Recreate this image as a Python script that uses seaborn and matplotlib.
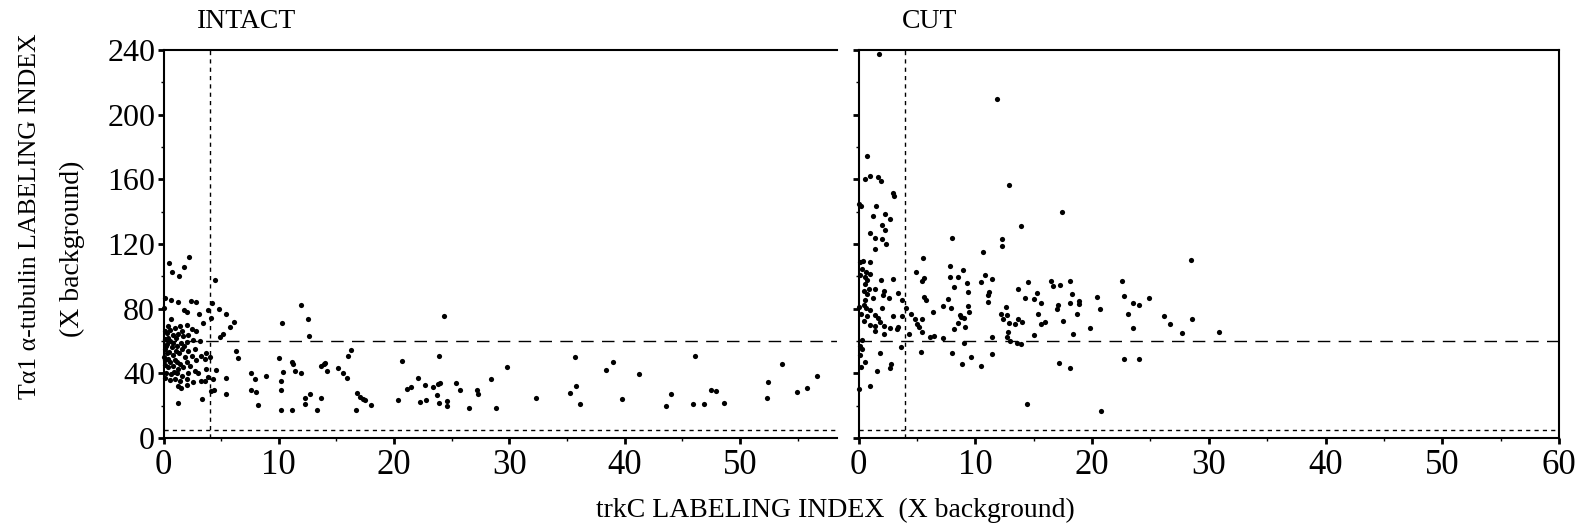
import matplotlib
matplotlib.use("Agg")
import matplotlib.pyplot as plt
from matplotlib.ticker import MultipleLocator
import numpy as np
import pandas as pd
import seaborn as sns

# ---- data: trkC labeling index (x) vs Talpha1 alpha-tubulin labeling index (y) ----
intact_x = [
    2.23, 0.5, 0.77, 1.37, 1.77, 4.44,
    0.15, 0.63, 1.29, 2.38, 2.86, 4.2, 0.0, 1.8, 2.03, 3.1, 3.87, 4.78, 5.4, 4.15, 3.4, 6.15, 5.8, 5.15, 4.9, 0.69,
    0.43, 1.0, 1.43, 2.0, 2.43, 2.86, 0.29, 0.86, 1.29, 1.72, 2.15, 0.15, 0.57, 1.06, 1.52, 2.0, 2.58, 3.15,
    0.2, 0.72, 1.15, 1.58, 2.15, 2.72, 0.29, 0.86, 1.35, 1.86, 2.43, 3.29, 3.72, 0.15, 0.57, 1.0, 1.43, 2.0,
    2.86, 3.58, 4.0, 0.37, 0.86, 1.29, 1.72, 2.29, 2.72, 0.2, 0.66, 1.15, 1.58, 2.15, 2.97, 3.72, 4.58,
    0.15, 0.57, 1.0, 1.43, 2.0, 2.58, 3.29, 3.86, 4.29, 1.29, 1.52, 2.0, 3.58, 4.38, 4.1, 3.38, 1.23, 6.3, 6.44,
    0.1, 0.1, 0.1, 0.05, 0.3, 0.4, 0.5, 0.8, 0.9, 1.2, 1.1, 1.6, 1.8, 0.6, 0.35,
    5.44, 5.44, 7.6, 7.6, 7.95, 8.0, 8.16, 8.93, 10.0, 10.3, 10.4, 10.2, 10.2, 10.16, 11.1, 11.1, 11.2, 11.4,
    11.9, 11.9, 12.5, 12.65, 12.3, 12.7, 12.3, 13.3, 13.7, 13.7, 13.9, 14.0, 14.2, 15.1, 15.6, 15.9, 16.0,
    16.3, 16.8, 17.0, 17.3, 17.5, 16.7, 18.0,
    20.3, 20.7, 24.3, 23.9, 21.1, 21.5, 22.1, 22.2, 22.7, 22.8, 23.4, 23.7, 23.8, 24.0, 23.9, 24.6, 24.6,
    25.4, 25.75, 26.5, 27.2, 27.3, 28.4, 28.8, 29.8, 32.3, 35.25, 35.8, 35.7, 36.1, 38.4, 39.0, 39.8, 41.2,
    43.6, 44.0, 45.9, 46.1, 46.9, 47.5, 47.95, 48.6, 52.3, 52.4, 53.6, 54.9, 55.8, 56.7,
]
intact_y = [
    112, 108, 102.6, 100, 105.8, 97.7,
    86.7, 85.6, 84.3, 85, 84.3, 83.7, 80.4, 79.1, 78.2, 77, 79.1, 79.5, 77, 74.4, 71.2, 71.6, 68.4, 64.1, 62.5, 73.7,
    69.4, 68.3, 69.4, 70, 67.4, 66.2, 65.1, 63.7, 64.5, 63, 63.7, 61, 60, 61.6, 59, 59.6, 60.4, 60,
    57, 56, 57, 55, 54, 55, 52.5, 51.6, 52.5, 50, 51, 51, 52.5, 48, 47, 48.4, 46, 47,
    48, 49, 50, 43.7, 44.7, 42.6, 44, 44.7, 41.6, 40.5, 39.5, 39.9, 38.5, 39.9, 40.5, 42.6, 42,
    37.4, 36, 36.8, 35.4, 36.4, 34.8, 35.4, 38, 36.4, 32, 31, 33, 35.4, 29.6, 29.2, 23.9, 21.4, 53.8, 49.7,
    45, 55, 66, 50, 58, 49, 53, 59, 41, 47, 54, 66, 57, 67, 62,
    37.4, 27.2, 40.5, 29.6, 36.3, 28.5, 20.7, 38.4, 49.7, 71.3, 40.9, 35.4, 30, 17.2, 17.2, 47.2, 46, 41.6,
    40, 82.2, 73.3, 63.1, 25, 27, 20.8, 17.3, 24.5, 44.4, 45.5, 46.5, 41.6, 43.2, 40.3, 37.4, 50.7,
    54.2, 27.6, 25.5, 24, 23.5, 17.3, 20.4,
    23.6, 47.7, 75.2, 50.5, 30.2, 31.6, 37.4, 22.3, 32.6, 23.2, 31.8, 26.3, 33.5, 34.3, 21.5, 23, 19.9,
    34.3, 30, 18.6, 29.8, 27.5, 36.3, 18.8, 43.7, 24.6, 28.1, 32.2, 49.9, 21.1, 41.9, 46.8, 24.4, 39.4,
    19.5, 27.3, 21.1, 50.7, 21.1, 29.5, 28.9, 21.7, 25, 34.5, 45.8, 28.7, 31.2, 38.6,
]

cut_x = [
    1.76, 0.69, 0.55, 1.0, 1.67, 1.93, 2.97, 3.08, 0.0, 0.23, 1.47, 1.27, 2.25, 2.74, 2.05, 2.25,
    11.9, 12.85, 13.9, 17.4,
    1.0, 1.38, 2.05, 2.33, 1.38, 5.56, 0.09, 0.37, 1.0, 0.32, 0.63, 1.0, 0.14, 0.55, 0.72, 1.93, 2.94,
    4.9, 5.6, 5.47, 7.8, 7.8, 0.58, 0.86, 1.38, 0.43, 0.72, 2.22, 3.4, 2.1, 2.62, 1.24, 3.69, 0.58,
    5.6, 5.76, 7.64, 7.2, 7.9, 6.4, 0.06, 0.43, 0.66, 1.0, 2.0, 2.97, 3.75, 4.1, 4.5, 0.23, 0.72, 1.38,
    1.67, 1.87, 2.2, 0.43, 0.95, 1.44, 2.68, 3.26, 3.4, 1.44, 2.16, 4.84, 5.04, 5.16, 5.47, 5.42, 4.32,
    6.14, 6.43, 7.2, 0.29, 0.14, 0.29, 1.82, 3.6, 5.33, 0.14, 0.58, 0.23, 2.82, 2.68, 1.61, 0.06, 1.0,
    7.97, 10.65, 12.3, 12.3, 8.92, 8.49, 8.14, 9.3, 9.4, 10.5, 10.85, 11.4, 11.2, 11.07, 11.1, 13.67,
    14.5, 14.3, 15.25, 15.0, 15.6, 15.4, 15.6, 16.0, 16.5, 16.7, 17.3, 18.1, 18.3, 18.85, 18.85, 18.1,
    17.1, 17.0, 18.7, 17.5, 18.4, 19.8, 20.4, 17.2, 18.1, 14.4, 12.6, 12.2, 12.4, 12.75, 12.9, 13.4,
    13.7, 14.0, 12.8, 12.75, 13.0, 13.6, 13.9, 15.0, 11.4, 11.4, 10.5, 9.67, 8.9, 7.97, 9.04, 8.7,
    8.8, 9.0, 8.5, 9.15, 8.14, 9.5, 9.4,
    20.7, 22.6, 22.75, 23.1, 23.5, 24.0, 24.9, 23.5, 26.2, 26.7, 27.7, 28.5, 28.6, 30.9, 22.7, 24.05, 20.8,
]
cut_y = [
    237.3, 174.6, 160.2, 161.8, 161.4, 158.7, 151.5, 149.5, 145, 143.3, 143.7, 137.5, 138.8, 135.5, 131.6, 128.9,
    209.8, 156.5, 131, 140,
    126.5, 123.6, 123, 120.1, 116.8, 111.3, 108.8, 109.2, 108.6, 104.7, 102.6, 101.6, 100.6, 99.5, 97.5, 97.5, 98.1,
    102.6, 99.1, 97.1, 106.1, 99.5, 95.4, 92.3, 92.3, 90.9, 89.2, 90.9, 89.7, 88.2, 86.8, 86.6, 85.5, 85.1,
    87.2, 85.5, 86.2, 81.6, 80.6, 77.7, 81, 82, 80.6, 79, 80.4, 75.7, 75.3, 80.4, 76.5, 76.9, 75.3, 75.9,
    74.4, 71.6, 69.5, 72.2, 70.1, 69.3, 68.3, 67.6, 68.7, 66.2, 64.6, 73.6, 70.7, 68.7, 73.8, 65.4, 64.1,
    62.5, 63.1, 62.1, 60.4, 56.7, 55.3, 52.6, 56.3, 53, 51.2, 47.1, 44, 46, 43, 41.3, 30.6, 32,
    123.8, 115.1, 122.8, 118.6, 104.2, 99.7, 93.1, 95.6, 90.2, 96.2, 100.7, 98.3, 90.5, 88.4, 83.9, 92.3,
    96.2, 86.7, 89.8, 85.9, 83.7, 76.7, 70.5, 71.7, 97, 94, 94.6, 97, 88.8, 84.7, 82.8, 83.3,
    82.2, 80, 76.7, 72.6, 64.1, 68, 87, 46.6, 43.5, 21.1, 80.8, 76.7, 73.4, 75.8, 70.9, 70.5,
    73.8, 71.9, 65.6, 62.7, 60, 59, 57.9, 63.5, 62.3, 52, 44.8, 49.9, 45.8, 52.4, 58.6, 76.3,
    74.6, 74, 71.3, 68.4, 67.4, 77.7, 81.6,
    80, 97, 87.8, 76.7, 83.3, 82.4, 86.3, 67.8, 75.2, 70.5, 64.7, 109.8, 73.4, 65.6, 48.7, 48.7, 16.6,
]

panel_titles = ["INTACT", "CUT"]
x_threshold = 4
y_threshold = 5
y_reference = 60

df = pd.concat([
    pd.DataFrame({"trkC": intact_x, "tubulin": intact_y, "group": "INTACT"}),
    pd.DataFrame({"trkC": cut_x, "tubulin": cut_y, "group": "CUT"}),
], ignore_index=True)

sns.set_theme(style="ticks")
plt.rcParams["font.family"] = ["Liberation Serif", "DejaVu Serif"]
plt.rcParams.update({
    "text.color": "black",
    "axes.labelcolor": "black",
    "xtick.color": "black",
    "ytick.color": "black",
    "axes.edgecolor": "black",
})

W, H = 1583, 531
fig = plt.figure(figsize=(W / 100, H / 100), dpi=100)
y_top, y_bot = 50, 438
ax_l = fig.add_axes([163.5 / W, 1 - y_bot / H, (837 - 163.5) / W, (y_bot - y_top) / H])
ax_r = fig.add_axes([858.5 / W, 1 - y_bot / H, (1559 - 858.5) / W, (y_bot - y_top) / H])

for ax, name, xmax in [(ax_l, "INTACT", 58.4), (ax_r, "CUT", 60)]:
    sub = df[df["group"] == name]
    sns.scatterplot(data=sub, x="trkC", y="tubulin", ax=ax, color="black",
                    s=14, linewidth=0, legend=False, clip_on=False)
    ax.set_xlim(0, xmax)
    ax.set_ylim(0, 240)
    ax.axhline(y_reference, color="black", lw=1.0, dashes=(9, 6))
    ax.axhline(y_threshold, color="black", lw=1.0, dashes=(3, 3))
    ax.axvline(x_threshold, color="black", lw=1.0, dashes=(3, 3))
    ax.xaxis.set_major_locator(MultipleLocator(10))
    ax.xaxis.set_minor_locator(MultipleLocator(5))
    ax.yaxis.set_major_locator(MultipleLocator(40))
    ax.yaxis.set_minor_locator(MultipleLocator(20))
    ax.tick_params(which="major", direction="out", length=4, width=2, color="black")
    ax.tick_params(which="minor", direction="out", length=2, width=1, color="black")
    ax.tick_params(axis="x", labelsize=25, pad=4, labelcolor="black")
    ax.tick_params(axis="y", labelsize=23, pad=2, labelcolor="black")
    ax.set_xlabel("")
    ax.set_ylabel("")
    for sp in ax.spines.values():
        sp.set_linewidth(1.5)
        sp.set_color("black")

ax_l.spines["right"].set_visible(False)
ax_r.tick_params(axis="y", labelleft=False)

fig.text(197 / W, 1 - 22 / H, panel_titles[0], fontsize=20, ha="left", va="center")
fig.text(902 / W, 1 - 22 / H, panel_titles[1], fontsize=20, ha="left", va="center")

fig.text(30 / W, 1 - 216 / H, "T\u03b11 \u03b1-tubulin LABELING INDEX", fontsize=18.5,
         rotation=90, ha="center", va="center")
fig.text(72 / W, 1 - 249 / H, "(X background)", fontsize=20,
         rotation=90, ha="center", va="center")
fig.text(835 / W, 1 - 510 / H, "trkC LABELING INDEX  (X background)", fontsize=20,
         ha="center", va="center")

fig.savefig("out.png", dpi=100)
